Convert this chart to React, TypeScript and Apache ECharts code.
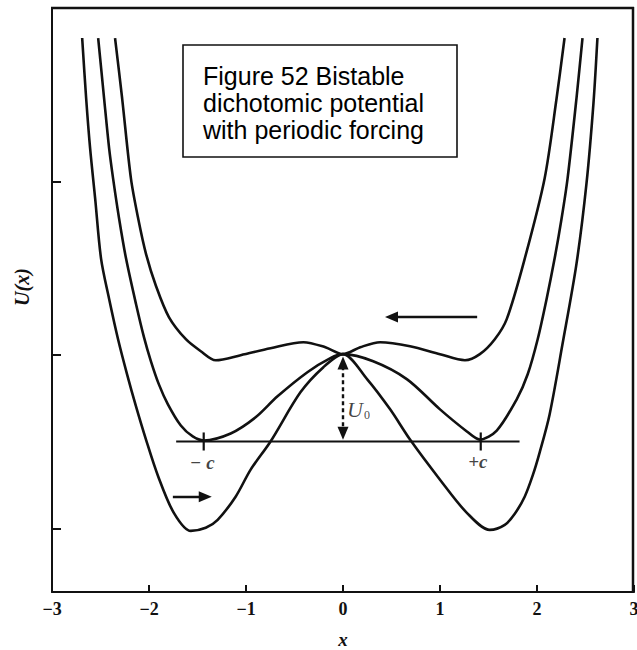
import React, { useEffect, useRef } from "react";
import * as echarts from "echarts";

// Axis ticks
const xTickValues = [-3, -2, -1, 0, 1, 2, 3];
const uTickValues = [0, 1, 2];
const xRange = [-3, 3];
const uRange = [-0.364, 3.0];

// Upper curve (forcing tilts wells up)
const upperX = [-2.35, -2.277, -2.186, -2.111, -2.031, -1.928, -1.795, -1.62, -1.466, -1.312, -1.055, -0.747, -0.408, -0.182, 0, 0.178, 0.383, 0.691, 1.0, 1.257, 1.411, 1.565, 1.688, 1.873, 2.078, 2.202, 2.284];
const upperU = [2.827, 2.48, 2.017, 1.786, 1.584, 1.399, 1.22, 1.092, 1.023, 0.971, 1.0, 1.04, 1.075, 1.046, 1.006, 1.046, 1.075, 1.052, 1.006, 0.971, 1.006, 1.092, 1.208, 1.555, 2.017, 2.48, 2.827];

// Symmetric bistable potential (minima at -c, +c)
const middleX = [-2.524, -2.463, -2.411, -2.37, -2.308, -2.236, -2.134, -2.052, -1.98, -1.898, -1.805, -1.672, -1.549, -1.436, -1.158, -0.901, -0.675, -0.367, -0.13, 0, 0.311, 0.661, 1.0, 1.277, 1.411, 1.585, 1.791, 1.904, 2.007, 2.099, 2.181, 2.253, 2.315, 2.407, 2.469];
const middleU = [2.827, 2.48, 2.191, 2.017, 1.786, 1.555, 1.295, 1.104, 0.965, 0.832, 0.717, 0.595, 0.532, 0.509, 0.549, 0.642, 0.763, 0.902, 0.983, 1.006, 0.965, 0.861, 0.688, 0.561, 0.514, 0.566, 0.746, 0.89, 1.092, 1.324, 1.555, 1.786, 2.017, 2.48, 2.827];

// Lower curve (deep wells)
const lowerX = [-2.689, -2.648, -2.607, -2.555, -2.494, -2.411, -2.319, -2.226, -2.134, -2.031, -1.908, -1.744, -1.569, -1.415, -1.292, -1.107, -0.952, -0.747, -0.439, -0.202, 0, 0.25, 0.486, 0.691, 1.0, 1.277, 1.513, 1.668, 1.771, 1.873, 1.955, 2.027, 2.13, 2.263, 2.407, 2.51, 2.582, 2.623];
const lowerU = [2.827, 2.48, 2.191, 1.902, 1.555, 1.324, 1.092, 0.89, 0.705, 0.514, 0.306, 0.092, -0.012, 0.006, 0.052, 0.185, 0.341, 0.503, 0.786, 0.931, 1.006, 0.861, 0.688, 0.514, 0.283, 0.092, -0.006, 0.023, 0.087, 0.185, 0.306, 0.439, 0.659, 1.064, 1.526, 1.988, 2.451, 2.827];

// Reference level and well positions
const baselineX = [-1.72, 1.82];
const baselineU = 0.503;
const wellX = [-1.436, 1.42];
const wellMarkU = [0.451, 0.555];
const wellLabels = ["− c", "+c"];

// Barrier height U0 arrow
const barrierX = 0;
const barrierU = [0.55, 0.955];

// Forcing arrows [fromX, toX, level]
const forceLeft = [1.383, 0.5, 1.22];
const forceRight = [-1.754, -1.42, 0.185];

// Annotation labels
const annotX = [-1.45, 1.39, 0.16];
const annotU = [0.38, 0.385, 0.69];

const serif = "'Liberation Serif', 'DejaVu Serif', serif";

export default function App() {
  const ref = useRef<HTMLDivElement>(null);
  useEffect(() => {
    if (!ref.current) return;
    const chart = echarts.init(ref.current, undefined, { renderer: "svg" });
    const zip = (xs: number[], us: number[]) => xs.map((x, i) => [x, us[i]]);
    const curveStyle = { color: "#111", width: 2.6 };
    const mkCurve = (name: string, xs: number[], us: number[]) => ({
      name,
      type: "line",
      data: zip(xs, us),
      smooth: 0.3,
      showSymbol: false,
      symbol: "none",
      lineStyle: curveStyle,
      silent: true,
      z: 3,
    });
    const arrowLine = (from: number[], to: number[], dashed: boolean, both: boolean) => [
      {
        coord: from,
        symbol: both ? "triangle" : "none",
        symbolSize: [11, 13],
        lineStyle: { color: "#111", width: 2.4, type: dashed ? [4, 3] : "solid" },
      },
      { coord: to, symbol: "triangle", symbolSize: [11, 13] },
    ];
    const axisStyle = { color: "#111", width: 2 };
    const frameStyle = { stroke: "#111", lineWidth: 2.5 };
    const option: any = {
      animation: false,
      grid: { left: 52, right: 3, top: 8, bottom: 58, outerBoundsMode: "none", containLabel: false },
      xAxis: {
        type: "value",
        min: xRange[0],
        max: xRange[1],
        interval: 1,
        axisLine: { show: true, onZero: false, lineStyle: axisStyle },
        axisTick: { show: true, inside: true, length: 7, lineStyle: axisStyle },
        splitLine: { show: false },
        axisLabel: {
          color: "#111",
          fontFamily: serif,
          fontSize: 18,
          fontWeight: "bold",
          margin: 8,
          formatter: (v: number) => (xTickValues.includes(v) ? (v < 0 ? "−" + Math.abs(v) : String(v)) : ""),
        },
        name: "x",
        nameLocation: "middle",
        nameGap: 38,
        nameTextStyle: { color: "#111", fontFamily: serif, fontStyle: "italic", fontWeight: "bold", fontSize: 19 },
      },
      yAxis: {
        type: "value",
        min: uRange[0],
        max: uRange[1],
        axisLine: { show: true, onZero: false, lineStyle: axisStyle },
        axisTick: { show: true, inside: true, length: 9, customValues: uTickValues, lineStyle: axisStyle },
        axisLabel: { show: false },
        splitLine: { show: false },
      },
      series: [
        mkCurve("upper", upperX, upperU),
        mkCurve("middle", middleX, middleU),
        mkCurve("lower", lowerX, lowerU),
        {
          name: "baseline",
          type: "line",
          data: baselineX.map((x) => [x, baselineU]),
          showSymbol: false,
          symbol: "none",
          lineStyle: { color: "#111", width: 2.2 },
          silent: true,
          markLine: {
            silent: true,
            label: { show: false },
            emphasis: { disabled: true },
            data: [
              arrowLine([barrierX, barrierU[0]], [barrierX, barrierU[1]], true, true),
              arrowLine([forceLeft[0], forceLeft[2]], [forceLeft[1], forceLeft[2]], false, false),
              arrowLine([forceRight[0], forceRight[2]], [forceRight[1], forceRight[2]], false, false),
            ],
          },
        },
        ...wellX.map((wx, i) => ({
          name: "well" + i,
          type: "line",
          data: wellMarkU.map((u) => [wx, u]),
          showSymbol: false,
          symbol: "none",
          lineStyle: { color: "#111", width: 2.2 },
          silent: true,
        })),
        {
          name: "labels",
          type: "scatter",
          symbolSize: 0,
          silent: true,
          data: [
            { value: [annotX[0], annotU[0]], label: { formatter: "{c|" + wellLabels[0] + "}" } },
            { value: [annotX[1], annotU[1]], label: { formatter: "{c|" + wellLabels[1] + "}" } },
            { value: [annotX[2], annotU[2]], label: { formatter: "{u|U}{s|0}" } },
          ],
          label: {
            show: true,
            position: "inside",
            color: "#111",
            rich: {
              c: { fontFamily: serif, fontStyle: "italic", fontWeight: "bold", fontSize: 19, color: "#111" },
              u: { fontFamily: serif, fontStyle: "italic", fontWeight: "normal", fontSize: 22, color: "#111" },
              s: { fontFamily: serif, fontWeight: "normal", fontSize: 12, color: "#111", padding: [12, 0, 0, 1] },
            },
          },
        },
      ],
      graphic: [
        {
          type: "line",
          shape: { x1: 51, y1: 8, x2: 634, y2: 8 },
          style: frameStyle,
          z: 20,
          silent: true,
        },
        {
          type: "line",
          shape: { x1: 633, y1: 7, x2: 633, y2: 593 },
          style: frameStyle,
          z: 20,
          silent: true,
        },
        {
          type: "text",
          x: 22,
          y: 287,
          rotation: Math.PI / 2,
          style: {
            text: "U(x)",
            fontFamily: serif,
            fontStyle: "italic",
            fontWeight: "bold",
            fontSize: 20,
            fill: "#111",
            align: "center",
            verticalAlign: "middle",
          },
        },
        {
          type: "rect",
          shape: { x: 183, y: 45, width: 274, height: 112 },
          style: { fill: "#fff", stroke: "#111", lineWidth: 1.6 },
          z: 10,
        },
        ...["Figure 52 Bistable", "dichotomic potential", "with periodic forcing"].map((t, i) => ({
          type: "text",
          x: 203,
          y: 76 + i * 27,
          z: 11,
          style: {
            text: t,
            fontFamily: "'Liberation Sans', Arial, sans-serif",
            fontSize: 25,
            fill: "#000",
            align: "left",
            verticalAlign: "middle",
          },
        })),
      ],
    };
    chart.setOption(option);
    return () => chart.dispose();
  }, []);
  return <div ref={ref} style={{ position: "fixed", left: 0, top: 0, width: 637, height: 650, background: "#fff" }} />;
}
